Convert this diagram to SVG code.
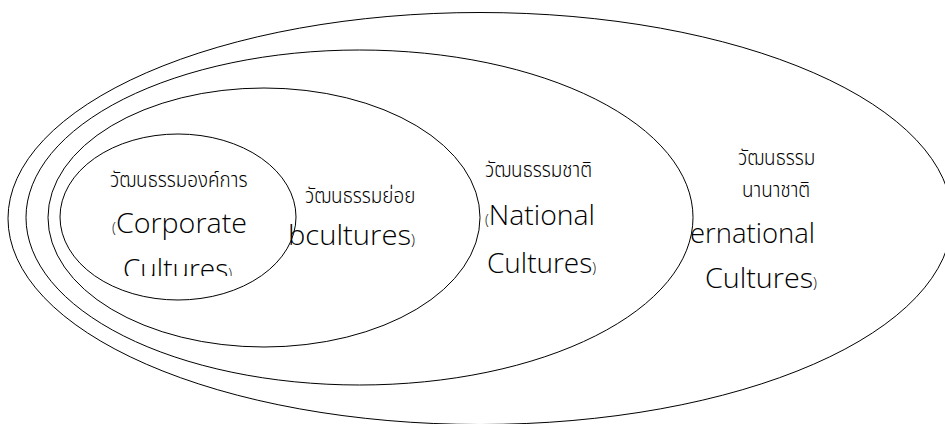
<svg xmlns="http://www.w3.org/2000/svg" width="945" height="424" viewBox="0 0 945 424">
<style>
.ring{fill:none;stroke:#000;stroke-width:1}
.en{font-family:"Open Sans","Noto Sans",sans-serif;font-size:28px;font-weight:300;fill:#000}
.th{font-family:"Noto Sans Thai","Noto Sans","Noto Sans CJK SC",sans-serif;font-size:21px;font-weight:300;fill:#000}
.p{font-size:14px}
</style>
<defs>
<clipPath id="clipCorp"><rect x="0" y="0" width="945" height="276"/></clipPath>
</defs>
<rect width="945" height="424" fill="#fff"/>
<g id="international">
<ellipse class="ring" cx="480" cy="218.5" rx="472" ry="206"/>
<text class="th" transform="translate(738 165) scale(0.9 1)">วัฒนธรรม</text>
<text class="th" transform="translate(742 197) scale(0.9 1)">นานาชาติ</text>
<text class="en" x="690" y="243" textLength="125" lengthAdjust="spacingAndGlyphs">ernational</text>
<text class="en" x="705" y="288" textLength="112" lengthAdjust="spacingAndGlyphs">Cultures<tspan class="p">)</tspan></text>
</g>
<g id="national">
<ellipse class="ring" cx="359.5" cy="217.5" rx="333.5" ry="167.5"/>
<text class="th" transform="translate(485 177) scale(0.9 1)">วัฒนธรรมชาติ</text>
<text class="en" x="485" y="225" textLength="110" lengthAdjust="spacingAndGlyphs"><tspan class="p">(</tspan>National</text>
<text class="en" x="487" y="273" textLength="109" lengthAdjust="spacingAndGlyphs">Cultures<tspan class="p">)</tspan></text>
</g>
<g id="subcultures">
<ellipse class="ring" cx="264" cy="217.5" rx="216" ry="129.5"/>
<text class="th" transform="translate(305 203) scale(0.9 1)">วัฒนธรรมย่อย</text>
<text class="en" x="288" y="245" textLength="127" lengthAdjust="spacingAndGlyphs">bcultures<tspan class="p">)</tspan></text>
</g>
<g id="corporate">
<ellipse class="ring" cx="178" cy="217" rx="118" ry="83"/>
<text class="th" transform="translate(110 187) scale(0.9 1)">วัฒนธรรมองค์การ</text>
<text class="en" x="112" y="233" textLength="135" lengthAdjust="spacingAndGlyphs"><tspan class="p">(</tspan>Corporate</text>
<text class="en" x="123" y="279" textLength="109" lengthAdjust="spacingAndGlyphs" clip-path="url(#clipCorp)">Cultures<tspan class="p">)</tspan></text>
</g>
</svg>
